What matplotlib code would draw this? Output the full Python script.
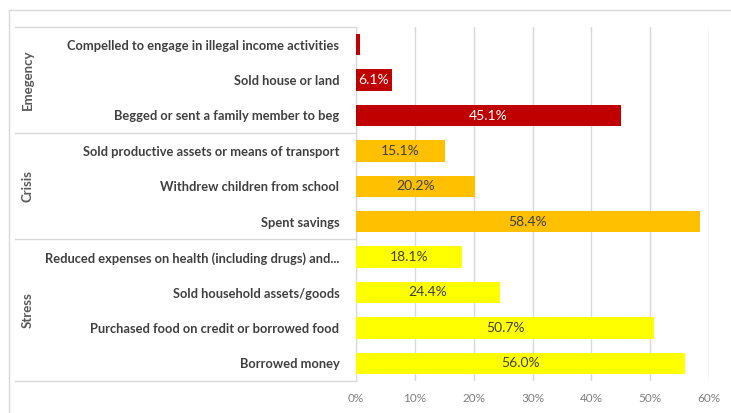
import matplotlib.pyplot as plt
from matplotlib.lines import Line2D
from matplotlib.ticker import PercentFormatter

plt.rcParams['font.family'] = ['Lato', 'DejaVu Sans']

# coping strategies, top to bottom
labels = ['Compelled to engage in illegal income activities',
          'Sold house or land',
          'Begged or sent a family member to beg',
          'Sold productive assets or means of transport',
          'Withdrew children from school',
          'Spent savings',
          'Reduced expenses on health (including drugs) and...',
          'Sold household assets/goods',
          'Purchased food on credit or borrowed food',
          'Borrowed money']
values = [0.6, 6.1, 45.1, 15.1, 20.2, 58.4, 18.1, 24.4, 50.7, 56.0]
groups = ['Emegency', 'Crisis', 'Stress']
group_sizes = [3, 3, 4]
group_colors = ['#C00000', '#FFC000', '#FFFF00']
label_colors = ['white', '#404040', '#404040']
show_label = [False] + [True] * 9

fig = plt.figure(figsize=(7.31, 4.13), dpi=100)
W, H = 731, 413
ax = fig.add_axes([356 / W, 1 - 381 / H, (709 - 356) / W, (381 - 27) / H])

colors, tcolors = [], []
for g, n in enumerate(group_sizes):
    colors += [group_colors[g]] * n
    tcolors += [label_colors[g]] * n

y = list(range(len(labels)))
bars = ax.barh(y, values, height=0.6, color=colors, zorder=3)
for b, v, c, s in zip(bars, values, tcolors, show_label):
    if s:
        ax.text(v / 2, b.get_y() + b.get_height() / 2, f'{v:.1f}%',
                ha='center', va='center', color=c, fontsize=10, zorder=4)

ax.set_ylim(len(labels) - 0.5, -0.5)
ax.set_xlim(0, 60)
ax.set_xticks(range(0, 61, 10))
ax.xaxis.set_major_formatter(PercentFormatter(decimals=0))
ax.set_yticks(y)
ax.set_yticklabels(labels, fontsize=9.3, color='#404040', fontweight='bold')
ax.tick_params(axis='y', length=0, pad=12)
ax.tick_params(axis='x', length=0, pad=9, labelsize=8.5, labelcolor='#7F7F7F')
ax.grid(axis='x', color='#D9D9D9', lw=1, zorder=0)
for sp in ['top', 'right', 'bottom']:
    ax.spines[sp].set_visible(False)
ax.spines['left'].set_color('#D9D9D9')

# category box at the left
line_c = '#D9D9D9'
box_left = 15
row_h = (381 - 27) / len(labels)
edges = [27]
for n in group_sizes:
    edges.append(edges[-1] + n * row_h)
for e in edges:
    fig.add_artist(Line2D([box_left / W, 356 / W], [1 - e / H, 1 - e / H],
                          color=line_c, lw=1))
for g, name in enumerate(groups):
    mid = (edges[g] + edges[g + 1]) / 2
    fig.text(28 / W, 1 - mid / H, name, rotation=90, ha='center', va='center',
             fontsize=9.5, color='#595959', fontweight='bold')

# chart outline
fig.add_artist(Line2D([9 / W, 9 / W], [0, 1 - 10 / H], color=line_c, lw=1))
fig.add_artist(Line2D([9 / W, 1], [1 - 10 / H, 1 - 10 / H], color=line_c, lw=1))

fig.savefig('out.png', dpi=100)
